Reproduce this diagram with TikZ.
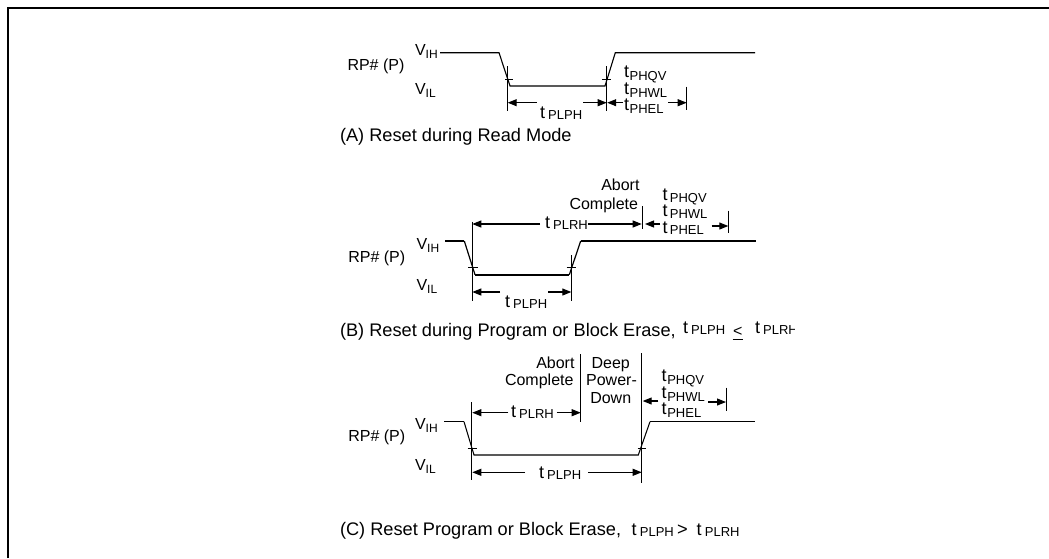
\documentclass[tikz,border=0pt]{standalone}
\usepackage{fontspec}
\setmainfont{Liberation Sans}
\usetikzlibrary{arrows.meta}
\newcommand{\lblfont}{\fontsize{16}{18}\selectfont}
\newcommand{\capfont}{\fontsize{18.2}{20}\selectfont}
\newcommand{\subfont}{\fontsize{13}{14}\selectfont}
\newcommand{\tfont}{\fontsize{18}{20}\selectfont}
% t with lowered subscript (stacked delay labels)
\newcommand{\tlow}[1]{{\tfont t}\hspace{0.6pt}\raisebox{-3.2pt}{\subfont #1}}
% t, a small gap, then a nearly level subscript
\newcommand{\tgap}[1]{{\tfont t}\hspace{3.2pt}\raisebox{-1.3pt}{\subfont #1}}
\newcommand{\tmid}[1]{{\tfont t}\hspace{2.2pt}\raisebox{-1.7pt}{\subfont #1}}
\newcommand{\volt}[1]{V\raisebox{-3.5pt}{\fontsize{12}{13}\selectfont #1}}
\tikzset{
  lbl/.style={anchor=base west,inner sep=0pt,outer sep=0pt,font=\lblfont},
  lblr/.style={anchor=base east,inner sep=0pt,outer sep=0pt,font=\lblfont},
  lblc/.style={anchor=base,inner sep=0pt,outer sep=0pt,font=\lblfont},
  captext/.style={anchor=base west,inner sep=0pt,outer sep=0pt,font=\capfont},
  thinl/.style={line width=1.05pt,black},
  dimarrow/.style={line width=1.05pt,black,-{Triangle[length=9pt,width=7pt]}},
  frameline/.style={line width=2pt,black},
}
\begin{document}
\begin{tikzpicture}[x=1pt,y=-1pt]
\useasboundingbox (0,0) rectangle (1049,558);
\fill[white] (0,0) rectangle (1049,558);
\draw[frameline] (8.3,558) -- (8.3,7.7) -- (1049,7.7);

%% (A)
\node[lbl] (arp) at (347.5,70.5) {RP\# (P)};
\node[lbl] (avih) at (415,55) {\volt{IH}};
\node[lbl] (avil) at (415,94) {\volt{IL}};
\draw[thinl,line width=1.1pt] (440,52.7) -- (499,52.7) -- (510,86) -- (605,86) -- (615.3,52.7) -- (755,52.7);
\draw[thinl] (507.7,66) -- (507.7,111);
\draw[thinl] (606.7,66) -- (606.7,111);
\draw[thinl] (505,79.3) -- (512.7,79.3);
\draw[thinl] (602,79.3) -- (610.7,79.3);
\draw[dimarrow] (536.7,102.7) -- (507.7,102.7);
\draw[dimarrow] (583.3,102.7) -- (606.7,102.7);
\draw[dimarrow] (623,102.7) -- (607.2,102.7);
\draw[dimarrow] (668,102.7) -- (686.7,102.7);
\draw[thinl] (686.9,86.7) -- (686.9,110);
\node[lbl] (aplph) at (540,118) {\tgap{PLPH}};
\node[lbl] (aqv) at (624,77.7) {\tlow{PHQV}};
\node[lbl] (awl) at (624,94) {\tlow{PHWL}};
\node[lbl] (ael) at (624,110) {\tlow{PHEL}};
\node[captext] (acap) at (340,141.7) {(A) Reset during Read Mode};

%% (B)
\node[lbl] (brp) at (348.3,262) {RP\# (P)};
\node[lbl] (bvih) at (416.5,249) {\volt{IH}};
\node[lbl] (bvil) at (416.5,290) {\volt{IL}};
\draw[line width=2.6pt] (445,241) -- (464.3,241);
\draw[line width=2.6pt] (580.7,241) -- (756,241);
\draw[line width=1.2pt] (464.3,241) -- (475,274.7);
\draw[line width=2pt] (475,274.7) -- (569.3,274.7);
\draw[line width=1.2pt] (569.3,274.7) -- (580.7,241);
\draw[thinl] (472.3,221.7) -- (472.3,300.7);
\draw[thinl] (571.3,255) -- (571.3,300.7);
\draw[thinl] (468.3,267.7) -- (477.7,267.7);
\draw[thinl] (566.7,267.7) -- (576,267.7);
\draw[dimarrow] (540,224) -- (472.3,224);
\draw[dimarrow] (588,224) -- (641.7,224);
\draw[thinl] (642.5,206) -- (642.5,229.3);
\draw[dimarrow] (660,224) -- (645,224);
\draw[dimarrow] (711.7,226) -- (728.3,226);
\draw[thinl] (728.8,210.7) -- (728.8,233.3);
\draw[dimarrow] (500,292) -- (472.3,292);
\draw[dimarrow] (548.3,292) -- (571.3,292);
\node[lblr] (babort) at (639.5,190.7) {Abort};
\node[lblr] (bcompl) at (638,209) {Complete};
\node[lbl] (brh) at (545,228) {\tgap{PLRH}};
\node[lbl] (bqv) at (662.7,200.7) {\tmid{PHQV}};
\node[lbl] (bwl) at (662.7,216.5) {\tmid{PHWL}};
\node[lbl] (bel) at (662.7,233) {\tmid{PHEL}};
\node[lbl] (bplph) at (505,307.3) {\tgap{PLPH}};
\node[captext] (bcap) at (340,336) {(B) Reset during Program or Block Erase,};
\node[lbl] (bcap1) at (683,333.5) {\tgap{PLPH}};
\node[lbl] (ble) at (733,336.5) {<};
\draw[line width=1.1pt] (732.7,339.5) -- (742.7,339.5);
\begin{scope}
\clip (750,315) rectangle (794,345);
\node[lbl] (bcap2) at (755,333.5) {\tgap{PLRH}};
\end{scope}

%% (C)
\node[lbl] (crp) at (348.3,441) {RP\# (P)};
\node[lbl] (cvih) at (415,429.3) {\volt{IH}};
\node[lbl] (cvil) at (415,470) {\volt{IL}};
\draw[line width=1.5pt] (444,421.7) -- (464,421.7);
\draw[line width=1.5pt] (650,421.7) -- (755,421.7);
\draw[line width=1.05pt] (464,421.7) -- (474,455) -- (638.3,455) -- (650,421.7);
\draw[thinl] (471.7,402.3) -- (471.7,480);
\draw[line width=1.3pt] (641.7,353.3) -- (641.7,483.3);
\draw[line width=1.3pt] (580.7,354) -- (580.7,421.7);
\draw[thinl] (467.7,448.3) -- (476.7,448.3);
\draw[thinl] (637.7,448.3) -- (646,448.3);
\draw[dimarrow] (508.3,412.7) -- (472.3,412.7);
\draw[dimarrow] (556.7,412.7) -- (580.7,412.7);
\draw[dimarrow] (525,472.3) -- (472.3,472.3);
\draw[dimarrow] (588.3,472.3) -- (641.7,472.3);
\draw[dimarrow] (658.3,401) -- (642.7,401);
\draw[dimarrow] (708.3,402) -- (726,402);
\draw[thinl] (726.2,387.7) -- (726.2,410.7);
\node[lblr] (cabort) at (574.5,368.3) {Abort};
\node[lblr] (ccompl) at (573.5,385) {Complete};
\node[lblc] (cdeep) at (610.7,368.3) {Deep};
\node[lblc] (cpower) at (611.5,385) {Power-};
\node[lblc] (cdown) at (610.7,403.3) {Down};
\node[lbl] (crh) at (511,417.5) {\tgap{PLRH}};
\node[lbl] (cplph) at (539,478) {\tgap{PLPH}};
\node[lbl] (cqv) at (661.7,381) {\tlow{PHQV}};
\node[lbl] (cwl) at (661.7,398) {\tlow{PHWL}};
\node[lbl] (cel) at (661.7,414) {\tlow{PHEL}};
\node[captext] (ccap) at (340,535) {(C) Reset Program or Block Erase,};
\node[lbl] (ccap1) at (631.7,535.5) {\tgap{PLPH}};
\node[lbl,font=\capfont] (cgt) at (677,535.5) {>};
\node[lbl] (ccap2) at (696.7,535.5) {\tgap{PLRH}};
\end{tikzpicture}
\end{document}
